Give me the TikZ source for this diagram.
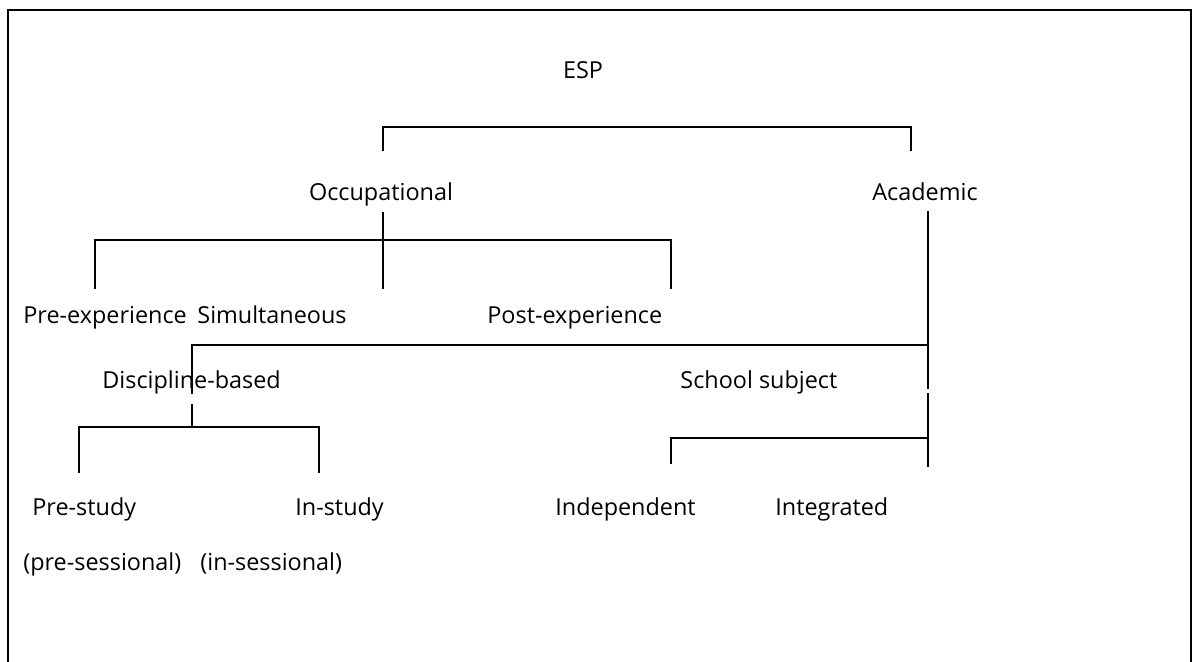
\documentclass[tikz,border=0pt]{standalone}
\usepackage{fontspec}
\setmainfont{Open Sans}
\begin{document}
\begin{tikzpicture}[x=0.5pt,y=-0.5pt,
  lbl/.style={inner sep=0pt, anchor=base west, font=\fontsize{11.7}{14}\selectfont},
  clbl/.style={lbl, anchor=base},
  link/.style={line width=1pt, line cap=rect},
  frame/.style={line width=1.3pt}]
\useasboundingbox (0,0) rectangle (1198,661);
\fill[white] (0,0) rectangle (1198,661);

% frame, open at the bottom
\coordinate (fbl) at (8,672);
\coordinate (ftl) at (8,10);
\coordinate (ftr) at (1191,10);
\coordinate (fbr) at (1191,672);
\draw[frame] (fbl) -- (ftl) -- (ftr) -- (fbr);

% labels
\node[clbl] (esp) at (583,78) {ESP};
\node[clbl] (occ) at (381,200) {Occupational};
\node[clbl] (acad) at (925,200) {Academic};
\node[lbl] (preexp) at (23,323) {Pre-experience};
\node[lbl] (simul) at (197,323) {Simultaneous};
\node[lbl] (postexp) at (487,323) {Post-experience};
\node[lbl] (disc) at (102,388) {Discipline-based};
\node[lbl] (school) at (680,388) {School subject};
\node[lbl] (prestudy) at (32,515) {Pre-study};
\node[lbl] (instudy) at (295,515) {In-study};
\node[lbl] (indep) at (555,515) {Independent};
\node[lbl] (integ) at (775,515) {Integrated};
\node[lbl] (presess) at (23,570) {(pre-sessional)};
\node[lbl] (insess) at (200,570) {(in-sessional)};

% junction points of the tree
\coordinate (t1l) at (383,127);  \coordinate (t1r) at (911,127);
\coordinate (t1lb) at (383,150); \coordinate (t1rb) at (911,150);

\coordinate (o0) at (383,213);
\coordinate (o1) at (95,240); \coordinate (o2) at (383,240); \coordinate (o3) at (671,240);
\coordinate (o1b) at (95,288); \coordinate (o2b) at (383,288); \coordinate (o3b) at (671,288);

\coordinate (a0) at (928,212);
\coordinate (a1) at (928,345);
\coordinate (a2) at (928,388);
\coordinate (a3) at (928,394);
\coordinate (a4) at (928,438);
\coordinate (a5) at (928,466);

\coordinate (d0) at (192,345);
\coordinate (d1) at (192,393);
\coordinate (d2) at (192,405);
\coordinate (d3) at (192,427);
\coordinate (dl) at (79,427);  \coordinate (dr) at (319,427);
\coordinate (dlb) at (79,472); \coordinate (drb) at (319,472);

\coordinate (s0) at (671,438); \coordinate (s0b) at (671,463);

% ESP branches
\draw[link] (t1lb) -- (t1l) -- (t1r) -- (t1rb);

% Occupational branches
\draw[link] (o0) -- (o2);
\draw[link] (o1b) -- (o1) -- (o3) -- (o3b);
\draw[link] (o2) -- (o2b);

% Academic branches
\draw[link] (a0) -- (a2);
\draw[link] (a3) -- (a5);
\draw[link] (a1) -- (d0) -- (d1);
\draw[link] (d2) -- (d3);
\draw[link] (dlb) -- (dl) -- (dr) -- (drb);
\draw[link] (a4) -- (s0) -- (s0b);
\end{tikzpicture}
\end{document}
